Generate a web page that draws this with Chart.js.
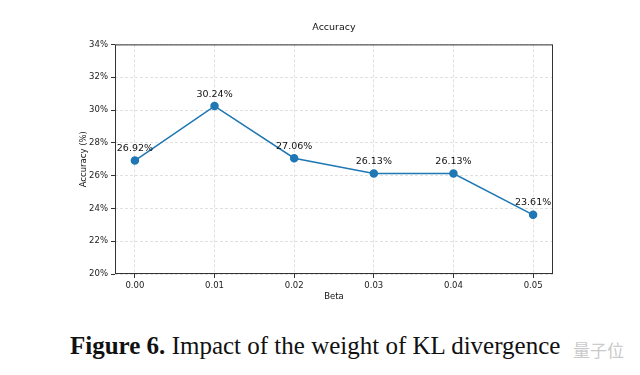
<!DOCTYPE html>
<html lang="en">
<head>
<meta charset="UTF-8" />
<title>Accuracy vs Beta</title>
<script src="https://cdn.jsdelivr.net/npm/chart.js@4"></script>
<style>
  html, body { margin: 0; padding: 0; background: #fff; }
  .wrap { position: relative; width: 640px; height: 375px; overflow: hidden; }
  .chart-box { position: absolute; left: 0; top: 0; width: 640px; height: 310px; }
  .caption { position: absolute; left: 70px; top: 332px; font-family: "Liberation Serif", serif;
             font-size: 25px; color: #111; white-space: nowrap; }
  .caption b { font-weight: bold; }
  .mark { position: absolute; left: 573px; top: 337px; font-family: "Noto Sans CJK SC", sans-serif;
          font-size: 17px; color: #cacaca; }
</style>
</head>
<body>
<div class="wrap">
  <div class="chart-box"><canvas id="chart1"></canvas></div>
  <div class="caption"><b>Figure 6.</b> Impact of the weight of KL divergence</div>
  <div class="mark">量子位</div>
</div>
<script>
  // values
  const betas = [0.00, 0.01, 0.02, 0.03, 0.04, 0.05];
  const accuracy = [26.92, 30.24, 27.06, 26.13, 26.13, 23.61];
  const xTickLabels = ['0.00', '0.01', '0.02', '0.03', '0.04', '0.05'];
  const yTicks = [20, 22, 24, 26, 28, 30, 32, 34];

  const lineColor = '#1f77b4';
  const tickFont = { family: 'DejaVu Sans', size: 8.5 };
  const labelFont = { family: 'DejaVu Sans', size: 8.5 };

  // box around the plot + value labels
  const frameAndLabels = {
    id: 'frameAndLabels',
    afterDatasetsDraw(chart) {
      const { ctx, chartArea: { left, right, top, bottom } } = chart;
      ctx.save();
      ctx.strokeStyle = '#333';
      ctx.lineWidth = 1;
      ctx.strokeRect(left + 0.5, top + 0.5, right - left - 1, bottom - top - 1);

      ctx.fillStyle = '#111';
      ctx.font = '9.5px "DejaVu Sans"';
      ctx.textAlign = 'center';
      ctx.textBaseline = 'middle';
      const meta = chart.getDatasetMeta(0);
      meta.data.forEach((pt, i) => {
        ctx.fillText(accuracy[i].toFixed(2) + '%', pt.x, pt.y - 12);
      });
      ctx.restore();
    }
  };

  new Chart(document.getElementById('chart1'), {
    type: 'line',
    data: {
      datasets: [{
        data: betas.map((b, i) => ({ x: b, y: accuracy[i] })),
        borderColor: lineColor,
        backgroundColor: lineColor,
        borderWidth: 1.5,
        pointRadius: 3.5,
        pointHoverRadius: 3.5,
        tension: 0
      }]
    },
    options: {
      responsive: true,
      maintainAspectRatio: false,
      animation: false,
      events: [],
      layout: { padding: { left: 79, right: 87, top: 0, bottom: 8 } },
      plugins: {
        legend: { display: false },
        tooltip: { enabled: false },
        title: {
          display: true,
          text: 'Accuracy',
          fullSize: false,
          color: '#111',
          font: { family: 'DejaVu Sans', size: 9.5, weight: 'normal' },
          padding: { top: 22, bottom: 11 }
        }
      },
      scales: {
        x: {
          type: 'linear',
          min: -0.0025,
          max: 0.0525,
          afterBuildTicks(scale) { scale.ticks = betas.map(v => ({ value: v })); },
          afterFit(scale) { scale.height = 28; },
          ticks: {
            color: '#222',
            font: tickFont,
            padding: 3,
            maxRotation: 0,
            callback: (v, i) => xTickLabels[i]
          },
          grid: { color: '#e0e0e0', tickColor: '#333', tickLength: 4, tickBorderDash: [] },
          border: { display: false, dash: [3, 2] },
          title: { display: true, text: 'Beta', color: '#111', font: labelFont, padding: { top: 2, bottom: 0 } }
        },
        y: {
          min: 20,
          max: 34,
          afterBuildTicks(scale) { scale.ticks = yTicks.map(v => ({ value: v })); },
          afterFit(scale) { scale.width = 36; },
          ticks: {
            color: '#222',
            font: tickFont,
            padding: 3,
            callback: v => v + '%'
          },
          grid: { color: '#e0e0e0', tickColor: '#333', tickLength: 4, tickBorderDash: [] },
          border: { display: false, dash: [3, 2] },
          title: { display: true, text: 'Accuracy (%)', color: '#111', font: labelFont, padding: { top: 0, bottom: 4 } }
        }
      }
    },
    plugins: [frameAndLabels]
  });
</script>
</body>
</html>
